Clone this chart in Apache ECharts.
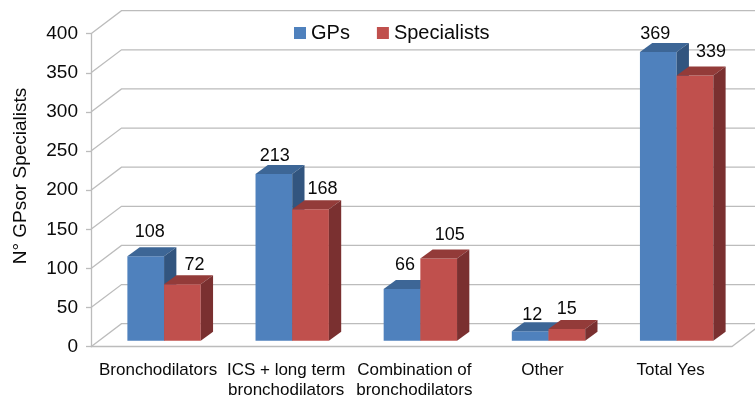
<!DOCTYPE html>
<html>
<head>
<meta charset="utf-8">
<style>html,body{margin:0;padding:0;background:#fff}#c{width:755px;height:401px}</style>
<script src="https://cdn.jsdelivr.net/npm/echarts@6/dist/echarts.min.js"></script>
</head>
<body>
<div id="c"></div>
<script>
const categories = ['Bronchodilators', 'ICS + long term\nbronchodilators', 'Combination of\nbronchodilators', 'Other', 'Total Yes'];
const gps = [108, 213, 66, 12, 369];
const specialists = [72, 168, 105, 15, 339];
const yTicks = [0, 50, 100, 150, 200, 250, 300, 350, 400];
const gpLabelShift = [[4, -24], [1, -18], [3, -24], [2, -16], [-3, -18]];
const spLabelShift = [[12, -19], [12, -20], [11, -24], [0, -20], [16, -23]];

const FONT = '"Liberation Sans", Arial, sans-serif';
const INK = '#0a0a0a';
const WALL = [30.5, -23];
const FLOOR = [9, -6];
const DEPTH = [12.3, -9];
const GRID_COLOR = '#bcbcbc';

function poly(points, fill) {
  return { type: 'polygon', shape: { points }, style: { fill, stroke: null } };
}

function barRenderer(side, colors, shifts) {
  return function (params, api) {
    const i = api.value(0), v = api.value(1);
    const bw = api.size([1, 0])[0] * 0.2863;
    const top = api.coord([i, v]);
    const base = api.coord([i, 0]);
    const x0 = top[0] + FLOOR[0] + (side === 0 ? -bw : 0);
    const x1 = x0 + bw;
    const yt = top[1] + FLOOR[1];
    const yb = base[1] + FLOOR[1];
    const dx = DEPTH[0], dy = DEPTH[1];
    const s = shifts[i];
    return {
      type: 'group',
      children: [
        poly([[x0, yb], [x1, yb], [x1, yt], [x0, yt]], colors[0]),
        poly([[x0, yt], [x1, yt], [x1 + dx, yt + dy], [x0 + dx, yt + dy]], colors[1]),
        poly([[x1, yb], [x1 + dx, yb + dy], [x1 + dx, yt + dy], [x1, yt]], colors[2]),
        { type: 'text', z2: 50, style: {
            text: String(v), x: (x0 + x1) / 2 + s[0], y: yt + s[1],
            align: 'center', verticalAlign: 'middle',
            font: '18px ' + FONT, fill: INK
        } }
      ]
    };
  };
}

function wallRenderer(params, api) {
  const c = api.coord([0, api.value(1)]);
  const g = params.coordSys;
  const left = g.x, right = g.x + g.width;
  const children = [{
    type: 'polyline',
    shape: { points: [[left, c[1]], [left + WALL[0], c[1] + WALL[1]], [right + WALL[0], c[1] + WALL[1]]] },
    style: { stroke: GRID_COLOR, lineWidth: 1.3, fill: null }
  }];
  if (api.value(1) === 0) {
    children.push({
      type: 'line',
      shape: { x1: right, y1: c[1], x2: right + WALL[0], y2: c[1] + WALL[1] },
      style: { stroke: GRID_COLOR, lineWidth: 1.3 }
    });
  }
  return { type: 'group', children };
}

const chart = echarts.init(document.getElementById('c'), null, { renderer: 'canvas' });
chart.setOption({
  animation: false,
  backgroundColor: '#fff',
  textStyle: { fontFamily: FONT },
  grid: { left: 91, right: 23.3, top: 33.7, bottom: 54.3, containLabel: false },
  legend: {
    data: ['GPs', 'Specialists'],
    left: 289, top: 18,
    icon: 'rect', itemWidth: 12, itemHeight: 12, itemGap: 27,
    textStyle: { fontSize: 20, color: INK, fontFamily: FONT }
  },
  xAxis: {
    type: 'category', data: categories,
    axisLine: { lineStyle: { color: GRID_COLOR, width: 1.3 } },
    axisTick: { length: 5, lineStyle: { color: GRID_COLOR, width: 1.3 } },
    axisLabel: { interval: 0, fontSize: 17, color: INK, margin: 14, lineHeight: 20, padding: [0, 0, 0, 6], fontFamily: FONT }
  },
  yAxis: {
    type: 'value', min: 0, max: 400, interval: 50,
    axisLine: { show: true, lineStyle: { color: GRID_COLOR, width: 1.3 } },
    axisTick: { show: true, length: 5, lineStyle: { color: GRID_COLOR, width: 1.3 } },
    axisLabel: { fontSize: 19, color: INK, margin: 13, fontFamily: FONT },
    splitLine: { show: false }
  },
  graphic: [{
    type: 'text', x: 21, y: 176, rotation: Math.PI / 2,
    style: { text: 'N\u00b0 GPsor Specialists', align: 'center', verticalAlign: 'middle',
             font: '19px ' + FONT, fill: INK }
  }],
  series: [
    { type: 'custom', silent: true, z: 1, renderItem: wallRenderer, clip: false,
      data: yTicks.map(v => [0, v]), encode: { x: 0, y: 1 } },
    { type: 'custom', name: 'GPs', z: 2, clip: false, itemStyle: { color: '#4f81bd' },
      renderItem: barRenderer(0, ['#4f81bd', '#3d6696', '#32557f'], gpLabelShift),
      data: gps.map((v, i) => [i, v]), encode: { x: 0, y: 1 } },
    { type: 'custom', name: 'Specialists', z: 3, clip: false, itemStyle: { color: '#c0504d' },
      renderItem: barRenderer(1, ['#c0504d', '#933b39', '#7a3030'], spLabelShift),
      data: specialists.map((v, i) => [i, v]), encode: { x: 0, y: 1 } }
  ]
});
</script>
</body>
</html>
